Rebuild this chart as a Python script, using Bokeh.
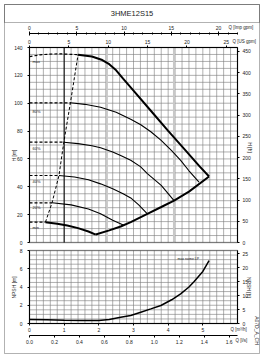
import math
import numpy as np
from bokeh.plotting import figure
from bokeh.models import (Range1d, LinearAxis, FixedTicker, Label, BoxAnnotation,
                          PrintfTickFormatter)
from bokeh.embed import file_html
from bokeh.resources import INLINE

FONT = "Liberation Sans"
title_text = "3HME12S15"

# ---------------- data (Q in m3/h, H in m) ----------------
max_dash_q = [0.0, 0.3, 0.6, 0.9, 1.2, 1.4]
max_dash_h = [133.5, 134.7, 135.3, 135.4, 135.1, 134.8]
max_q = [1.4, 1.8, 2.1, 2.3, 2.5, 2.7, 3.0, 3.5, 4.0, 4.5, 4.9, 5.18]
max_h = [134.8, 133.5, 131.0, 128.0, 123.6, 117.6, 109.0, 94.6, 80.2, 66.2, 54.8, 47.4]

p80_dash_q = [0.0, 1.18]
p80_dash_h = [100.3, 100.3]
p80_q = [1.18, 1.6, 2.05, 2.5, 2.92, 3.21, 3.5, 3.79, 4.1, 4.36, 4.6, 4.89]
p80_h = [100.3, 99.2, 97.1, 93.5, 88.5, 84.5, 79.5, 73.5, 66.0, 59.0, 51.5, 43.3]

p60_dash_q = [0.0, 0.99]
p60_dash_h = [72.0, 72.0]
p60_q = [0.99, 1.4, 1.8, 2.05, 2.4, 2.63, 2.92, 3.2, 3.4, 3.8, 4.17]
p60_h = [72.0, 71.0, 69.5, 68.0, 65.0, 62.5, 59.0, 54.5, 49.5, 41.0, 30.1]

p40_dash_q = [0.0, 0.85]
p40_dash_h = [48.1, 48.1]
p40_q = [0.85, 1.3, 1.7, 2.05, 2.4, 2.7, 2.92, 3.15, 3.4]
p40_h = [48.1, 47.0, 45.0, 42.1, 38.6, 35.0, 32.0, 27.0, 20.6]

p20_dash_q = [0.0, 0.65]
p20_dash_h = [28.5, 28.5]
p20_q = [0.65, 1.2, 1.7, 2.05, 2.4, 2.72]
p20_h = [28.5, 27.0, 24.0, 20.6, 16.0, 12.4]

min_dash_q = [0.0, 0.46]
min_dash_h = [14.6, 14.6]
min_q = [0.46, 0.8, 1.09, 1.4, 1.7, 1.91]
min_h = [14.6, 13.5, 12.2, 10.3, 7.9, 5.7]

bound_q = [1.91, 2.3, 2.63, 2.92, 3.4, 3.8, 4.17, 4.6, 5.18]
bound_h = [5.7, 8.7, 11.5, 14.6, 20.6, 25.5, 30.1, 36.5, 47.4]

start_q = [0.46, 0.65, 0.85, 0.99, 1.18, 1.4]
start_h = [14.6, 28.5, 48.1, 72.0, 100.3, 134.8]

min_flow_q = 1.0
shade_q = [2.23, 4.17]

curve_names = ["max", "80%", "60%", "40%", "20%", "min"]
curve_label_h = [129.6, 94.0, 67.5, 44.0, 25.3, 10.8]

npsh_q = [0.0, 0.5, 1.0, 1.5, 2.0, 2.3, 2.63, 2.92, 3.21, 3.5, 3.79, 4.1, 4.36, 4.6, 4.75, 5.0, 5.18]
npsh_m = [0.44, 0.40, 0.36, 0.33, 0.34, 0.45, 0.69, 0.88, 1.24, 1.6, 1.97, 2.6, 3.25, 4.0, 4.6, 5.7, 6.9]
npsh_label = "max nome LP"

# ---------------- tick labels ----------------
h_m_ticks = [0, 20, 40, 60, 80, 100, 120, 140]
h_ft_ticks = [0, 50, 100, 150, 200, 250, 300, 350, 400, 450]
us_gpm_ticks = [0, 5, 10, 15, 20, 25]
imp_gpm_ticks = [0, 5, 10, 15, 20]
q_m3h_ticks = [0, 1, 2, 3, 4, 5]
q_ls_ticks = [0.0, 0.2, 0.4, 0.6, 0.8, 1.0, 1.2, 1.4, 1.6]
npsh_m_ticks = [0, 2, 4, 6, 8]
npsh_ft_ticks = [0, 5, 10, 15, 20, 25]

# ---------------- scales / units ----------------
Q_MAX = 6.0
H_MAX = 140.0
N_MAX = 8.0
M3H_TO_USGPM = 4.402868
M3H_TO_IMPGPM = 3.666154
M_TO_FT = 3.28084
M3H_TO_LS = 1 / 3.6

W, H = 263, 360
X0_PX, X1_PX = 29, 237          # plot frame left / right
HT_PX, H0_PX = 47, 242          # main chart: H=140 / H=0
NT_PX, N0_PX = 250, 323         # NPSH chart: N=8 / N=0
QPX = (X1_PX - X0_PX) / Q_MAX
HPX = (H0_PX - HT_PX) / H_MAX
NPX = (N0_PX - NT_PX) / N_MAX


def qx(px):
    return (px - X0_PX) / QPX


def hy(py):
    return (H0_PX - py) / HPX


def ny(py):
    return (N0_PX - py) / NPX


TICK_FS = "5px"
GRID_COLOR = "#7a7a7a"
TXT = "#222222"

p = figure(width=W, height=H, x_range=Range1d(qx(0), qx(W)), y_range=Range1d(hy(H), hy(0)),
           output_backend="svg", toolbar_location=None, x_axis_type=None, y_axis_type=None,
           min_border_left=0, min_border_right=0, min_border_top=0, min_border_bottom=0)
p.outline_line_color = None
p.background_fill_color = "white"
p.border_fill_color = "white"
p.xgrid.visible = False
p.ygrid.visible = False

x0, x1 = p.x_range.start, p.x_range.end
y0, y1 = p.y_range.start, p.y_range.end
p.extra_y_ranges = {
    "hft": Range1d(y0 * M_TO_FT, y1 * M_TO_FT),
    "npsh": Range1d(ny(H), ny(0)),
    "nft": Range1d(ny(H) * M_TO_FT, ny(0) * M_TO_FT),
}
p.extra_x_ranges = {
    "us": Range1d(x0 * M3H_TO_USGPM, x1 * M3H_TO_USGPM),
    "imp": Range1d(x0 * M3H_TO_IMPGPM, x1 * M3H_TO_IMPGPM),
    "ls": Range1d(x0 * M3H_TO_LS, x1 * M3H_TO_LS),
}


def style_axis(ax, tick_out=2, tick_in=0, standoff=2):
    ax.major_label_text_font = FONT
    ax.major_label_text_font_size = TICK_FS
    ax.major_label_text_color = TXT
    ax.major_tick_out = tick_out
    ax.major_tick_in = tick_in
    ax.minor_tick_out = 0
    ax.minor_tick_in = 0
    ax.major_label_standoff = standoff
    ax.axis_line_color = "black"
    ax.axis_line_width = 1
    ax.major_tick_line_color = "black"


def label(x, y, text, size="5px", align="left", angle=0.0, y_range_name="default"):
    p.add_layout(Label(x=x, y=y, text=text, text_font=FONT, text_font_size=size,
                       text_align=align, text_baseline="middle", angle=angle,
                       text_color=TXT, y_range_name=y_range_name))


# ---------------- grids (main and NPSH) ----------------
grid_q = list(np.arange(0, Q_MAX + 0.001, 0.2))
grid_h = list(np.arange(0, H_MAX + 0.001, 5))
grid_n = list(np.arange(0, N_MAX + 0.001, 0.5))
p.segment(x0=grid_q, y0=[0] * len(grid_q), x1=grid_q, y1=[H_MAX] * len(grid_q),
          line_color=GRID_COLOR, line_width=0.6)
p.segment(x0=[0] * len(grid_h), y0=grid_h, x1=[Q_MAX] * len(grid_h), y1=grid_h,
          line_color=GRID_COLOR, line_width=0.6)
p.segment(x0=grid_q, y0=[0] * len(grid_q), x1=grid_q, y1=[N_MAX] * len(grid_q),
          line_color=GRID_COLOR, line_width=0.6, y_range_name="npsh")
p.segment(x0=[0] * len(grid_n), y0=grid_n, x1=[Q_MAX] * len(grid_n), y1=grid_n,
          line_color=GRID_COLOR, line_width=0.6, y_range_name="npsh")

p.segment(x0=shade_q, y0=[0] * len(shade_q), x1=shade_q, y1=[H_MAX] * len(shade_q),
          line_color="#c8c8c8", line_width=2.2)
p.segment(x0=[min_flow_q], y0=[0], x1=[min_flow_q], y1=[H_MAX],
          line_color="black", line_width=1)

# ---------------- pump curves ----------------
DASH = "3 2"
for dq, dh in [(max_dash_q, max_dash_h), (p80_dash_q, p80_dash_h), (p60_dash_q, p60_dash_h),
               (p40_dash_q, p40_dash_h), (p20_dash_q, p20_dash_h), (min_dash_q, min_dash_h)]:
    p.line(dq, dh, line_color="black", line_width=1.2, line_dash=DASH)
p.line(start_q, start_h, line_color="black", line_width=1, line_dash=DASH)

for q, h in [(p80_q, p80_h), (p60_q, p60_h), (p40_q, p40_h), (p20_q, p20_h)]:
    p.line(q, h, line_color="black", line_width=1.1)
for q, h in [(max_q, max_h), (min_q, min_h), (bound_q, bound_h)]:
    p.line(q, h, line_color="black", line_width=2)

for name, lh in zip(curve_names, curve_label_h):
    label(qx(32), lh, name, size="4px")

# ---------------- NPSH curve ----------------
p.line(npsh_q, npsh_m, line_color="black", line_width=1.5, y_range_name="npsh")
label(qx(177), ny(258), npsh_label, size="3.5px", y_range_name="npsh")

# ---------------- frames ----------------
p.add_layout(BoxAnnotation(left=0, right=Q_MAX, bottom=0, top=H_MAX, fill_color=None,
                           fill_alpha=0, line_color="black", line_width=1.5, line_dash="solid"))
p.add_layout(BoxAnnotation(left=0, right=Q_MAX, bottom=0, top=N_MAX, fill_color=None,
                           fill_alpha=0, line_color="black", line_width=1.5, line_dash="solid",
                           y_range_name="npsh"))
p.add_layout(BoxAnnotation(left=qx(4), right=qx(259), bottom=hy(353), top=hy(4), fill_color=None,
                           fill_alpha=0, line_color="black", line_width=1, line_dash="solid"))
p.add_layout(BoxAnnotation(left=qx(4), right=qx(259), bottom=hy(22), top=hy(4), fill_color=None,
                           fill_alpha=0, line_color="black", line_width=1, line_dash="solid"))

# ---------------- axes (fixed at the frame edges) ----------------
ax = LinearAxis(ticker=FixedTicker(ticks=h_m_ticks), fixed_location=0, bounds=(0, H_MAX))
style_axis(ax, tick_out=2, standoff=5)
p.add_layout(ax, "left")

ax = LinearAxis(y_range_name="hft", ticker=FixedTicker(ticks=h_ft_ticks), fixed_location=Q_MAX,
                bounds=(0, H_MAX * M_TO_FT))
style_axis(ax, tick_out=2, standoff=3)
p.add_layout(ax, "right")

ax = LinearAxis(x_range_name="us", ticker=FixedTicker(ticks=us_gpm_ticks), fixed_location=H_MAX,
                bounds=(0, Q_MAX * M3H_TO_USGPM))
style_axis(ax, tick_out=2, standoff=2)
p.add_layout(ax, "above")

ax = LinearAxis(x_range_name="imp", ticker=FixedTicker(ticks=imp_gpm_ticks,
                                                       minor_ticks=list(range(0, 23))),
                fixed_location=hy(33), bounds=(0, Q_MAX * M3H_TO_IMPGPM))
style_axis(ax, tick_out=2, tick_in=2, standoff=2)
ax.minor_tick_out = 1
ax.minor_tick_in = 1
ax.minor_tick_line_color = "black"
p.add_layout(ax, "above")

ax = LinearAxis(y_range_name="npsh", ticker=FixedTicker(ticks=npsh_m_ticks), fixed_location=0,
                bounds=(0, N_MAX))
style_axis(ax, tick_out=2, standoff=5)
p.add_layout(ax, "left")

ax = LinearAxis(y_range_name="nft", ticker=FixedTicker(ticks=npsh_ft_ticks), fixed_location=Q_MAX,
                bounds=(0, N_MAX * M_TO_FT))
style_axis(ax, tick_out=2, standoff=3)
p.add_layout(ax, "right")

ax = LinearAxis(y_range_name="npsh", ticker=FixedTicker(ticks=q_m3h_ticks), fixed_location=0,
                bounds=(0, Q_MAX))
style_axis(ax, tick_out=2, standoff=2)
p.add_layout(ax, "below")

ax = LinearAxis(x_range_name="ls", y_range_name="npsh", ticker=FixedTicker(ticks=q_ls_ticks),
                formatter=PrintfTickFormatter(format="%.1f"), fixed_location=ny(335),
                bounds=(0, Q_MAX * M3H_TO_LS))
style_axis(ax, tick_out=2, standoff=2)
p.add_layout(ax, "below")

# ---------------- texts ----------------
label(qx(131.5), hy(13), title_text, size="7.5px", align="center")
label(qx(228), hy(27), "Q [Imp gpm]", size="4.5px")
label(qx(232), hy(41), "Q [US gpm]", size="4.5px")
label(qx(13), hy(155), "H [m]", size="5px", align="center", angle=math.pi / 2)
label(qx(249), hy(147), "H [ft]", size="5px", align="center", angle=-math.pi / 2)
label(qx(13), hy(287), "NPSH [m]", size="5px", align="center", angle=math.pi / 2)
label(qx(248), hy(287), "NPSH [ft]", size="5px", align="center", angle=-math.pi / 2)
label(qx(256.5), hy(330), "A07D_A_CH", size="5px", align="center", angle=-math.pi / 2)
label(qx(230), hy(329), "Q [m³/h]", size="4.5px")
label(qx(235), hy(340), "Q [l/s]", size="4.5px")

open("out.html", "w").write(file_html(p, INLINE))
